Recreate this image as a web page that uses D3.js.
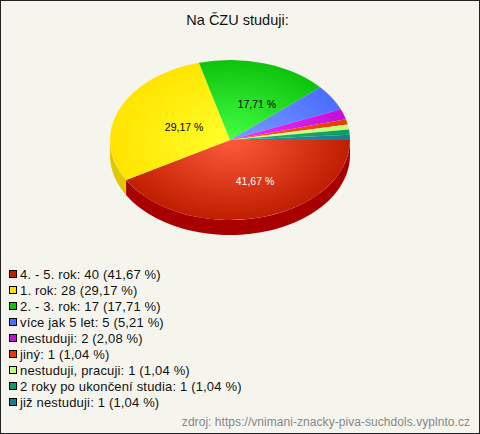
<!DOCTYPE html>
<html><head><meta charset="utf-8">
<script src="https://cdn.jsdelivr.net/npm/d3@7"></script>
<style>html,body{margin:0;padding:0;background:#f5f5ee}svg{display:block}text{font-family:"Liberation Sans",Arial,sans-serif}</style>
</head><body>
<svg id="c" width="480" height="434"></svg>
<script>
const titleText = "Na ČZU studuji:";
const sourceText = "zdroj: https://vnimani-znacky-piva-suchdols.vyplnto.cz";
const categories = ["4. - 5. rok","1. rok","2. - 3. rok","více jak 5 let","nestuduji","jiný","nestuduji, pracuji","2 roky po ukončení studia","již nestuduji"];
const counts = [40,28,17,5,2,1,1,1,1];
const percents = ["41,67","29,17","17,71","5,21","2,08","1,04","1,04","1,04","1,04"];
const inPieLabels = ["41,67 %","29,17 %","17,71 %",null,null,null,null,null,null];
const labelColors = ["#ffffff","#000000","#000000"];
const edgeColors = ["#c01e00","#ffe400","#0cc40c","#4a6eff","#c40fd8","#e63c00","#c4fc78","#0f9b5f","#167d96"];
const centerColors = ["#ff5a3c","#ffff2a","#44ff44","#7c9cff","#f032ff","#ff5a20","#dcff90","#28b478","#2896aa"];
const wallColors = ["#a80000","#e0c800","#0a9a0a","#3a58cc","#9a0caa","#b83000","#9cc860","#0c7c4c","#106478"];

const W=480,H=434,cx=230,cy=140,rx=120,ry=80,depth=15;
const svg=d3.select("#c");
svg.append("rect").attr("x",0.5).attr("y",0.5).attr("width",W-1).attr("height",H-1).attr("fill","#f5f5ee").attr("stroke","#222");
svg.append("text").attr("x",237.5).attr("y",25).attr("text-anchor","middle").attr("font-size",14.5).attr("fill","#111").text(titleText);

const pie=d3.pie().sort(null).value(d=>d).startAngle(Math.PI/2).endAngle(Math.PI/2+2*Math.PI);
const arcs=pie(counts);
// d3 angles: 0 = 12 o'clock, clockwise
const sx=d3.scaleLinear().domain([-1,1]).range([cx-rx,cx+rx]);
const sy=d3.scaleLinear().domain([-1,1]).range([cy-ry,cy+ry]);
const px=a=>sx(Math.sin(a)), py=a=>sy(-Math.cos(a));

const defs=svg.append("defs");
categories.forEach((c,i)=>{
  const g=defs.append("radialGradient").attr("id","g"+i).attr("gradientUnits","userSpaceOnUse")
    .attr("cx",0).attr("cy",0).attr("r",1);
  g.append("stop").attr("offset","0").attr("stop-color",centerColors[i]);
  g.append("stop").attr("offset","1").attr("stop-color",edgeColors[i]);
});

// side wall: the part of each slice on the front half of the ellipse
const frontStart=Math.PI/2, frontEnd=Math.PI*1.5;
const wallGroup=svg.append("g");
arcs.forEach((d,i)=>{
  const a0=Math.max(d.startAngle,frontStart), a1=Math.min(d.endAngle,frontEnd);
  if(a1<=a0) return;
  const as=d3.range(0,61).map(k=>a0+(a1-a0)*k/60);
  const pts=as.map(a=>[px(a),py(a)]).concat(as.slice().reverse().map(a=>[px(a),py(a)+depth]));
  wallGroup.append("path").attr("d",d3.line()(pts)+"Z").attr("fill",wallColors[i]);
});

const arcGen=d3.arc().innerRadius(0).outerRadius(1);
const faceGroup=svg.append("g").attr("transform",`translate(${cx},${cy}) scale(${rx},${ry})`);
faceGroup.selectAll("path").data(arcs).join("path").attr("d",arcGen).attr("fill",(d,i)=>`url(#g${i})`);

arcs.forEach((d,i)=>{
  if(!inPieLabels[i]) return;
  const m=(d.startAngle+d.endAngle)/2;
  svg.append("text").attr("x",cx+0.5*rx*Math.sin(m)+9.5).attr("y",cy-0.5*ry*Math.cos(m)+6.5)
    .attr("text-anchor","middle").attr("font-size",10.5).attr("fill",labelColors[i]).text(inPieLabels[i]);
});

const ly=d3.scalePoint().domain(d3.range(categories.length)).range([273.7,402.2]);
categories.forEach((c,i)=>{
  const y=ly(i);
  svg.append("rect").attr("x",9.5).attr("y",Math.round(y)-3.5).attr("width",7).attr("height",7)
    .attr("fill",edgeColors[i]).attr("stroke","#000");
  svg.append("text").attr("x",20).attr("y",y+5).attr("font-size",13).attr("letter-spacing",0.17).attr("fill","#111")
    .text(`${c}: ${counts[i]} (${percents[i]} %)`);
});
svg.append("text").attr("x",470).attr("y",426).attr("text-anchor","end").attr("font-size",12).attr("letter-spacing",0.05).attr("fill","#888").text(sourceText);
</script></body></html>
